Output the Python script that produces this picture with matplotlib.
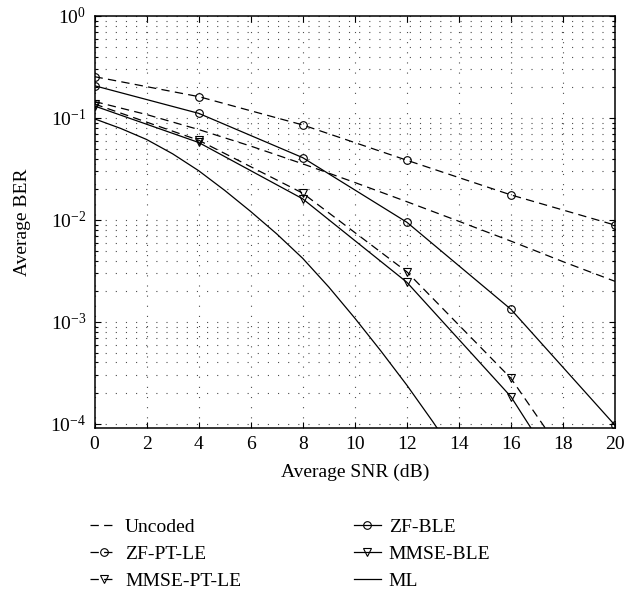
import numpy as np
import matplotlib
matplotlib.use("Agg")
import matplotlib.pyplot as plt
from matplotlib.ticker import LogLocator, NullFormatter

# Simulation points (dB) for the detector curves
snr_pts = [0, 4, 8, 12, 16, 20]
ber_zf_pt_le = [0.254, 0.162, 0.0854, 0.0385, 0.0176, 0.0089]
ber_zf_ble = [0.207, 0.111, 0.0408, 0.0095, 0.00133, 0.000097]
ber_mmse_pt_le = [0.137, 0.0605, 0.0183, 0.0031, 0.00028, 0.0000093]
ber_mmse_ble = [0.131, 0.0575, 0.0161, 0.00245, 0.000185, 0.0000047]

# Uncoded reference curve
snr_uncoded = [0, 2, 4, 6, 8, 10, 12, 14, 16, 18, 20]
ber_uncoded = [0.145, 0.108, 0.077, 0.053, 0.0355, 0.0233, 0.0151, 0.0097,
               0.0062, 0.0039, 0.0025]

# Maximum-likelihood detection
snr_ml = [0, 1, 2, 3, 4, 5, 6, 7, 8, 9, 10, 11, 12, 13, 14]
ber_ml = [0.098, 0.079, 0.0615, 0.0445, 0.0304, 0.0195, 0.0121, 0.0073,
          0.0042, 0.0022, 0.00109, 0.00052, 0.00024, 0.000105, 0.000044]

xticks = list(range(0, 21, 2))

plt.rcParams.update({
    "font.family": ["Liberation Serif", "DejaVu Serif"],
    "mathtext.fontset": "custom",
    "mathtext.rm": "Liberation Serif",
    "mathtext.it": "Liberation Serif:italic",
    "lines.scale_dashes": False,
    "lines.dashed_pattern": [6.0, 3.8],
})

fig = plt.figure(figsize=(6.39, 5.9), dpi=100)
ax = fig.add_axes([0.148, 0.2753, 0.8144, 0.6976])

lw = 0.9
ms = 5.5
mkw = dict(ms=ms, mfc="none", mec="k", mew=0.8)

ax.plot(snr_uncoded, ber_uncoded, color="k", lw=lw, ls="--", label="Uncoded")
ax.plot(snr_pts, ber_zf_pt_le, color="k", lw=lw, ls="--", marker="o",
        label="ZF-PT-LE", **mkw)
ax.plot(snr_pts, ber_mmse_pt_le, color="k", lw=lw, ls="--", marker="v",
        label="MMSE-PT-LE", **mkw)
ax.plot(snr_pts, ber_zf_ble, color="k", lw=lw, ls="-", marker="o",
        label="ZF-BLE", **mkw)
ax.plot(snr_pts, ber_mmse_ble, color="k", lw=lw, ls="-", marker="v",
        label="MMSE-BLE", **mkw)
ax.plot(snr_ml, ber_ml, color="k", lw=lw, ls="-", label="ML")

ax.set_yscale("log")
ax.set_xlim(0, 20)
ax.set_ylim(9.2e-5, 1)
ax.set_xticks(xticks)
ax.yaxis.set_major_locator(LogLocator(base=10, numticks=10))
ax.yaxis.set_minor_locator(LogLocator(base=10, subs=np.arange(2, 10), numticks=100))
ax.yaxis.set_minor_formatter(NullFormatter())

ax.tick_params(which="both", direction="in", top=True, right=True, width=0.8)
ax.tick_params(which="major", length=4, labelsize=14, pad=6)
ax.tick_params(which="minor", length=2.5)
for s in ax.spines.values():
    s.set_linewidth(1.1)

grid_style = dict(ls=(0, (0.8, 6.5)), color="0.3", lw=0.8)
ax.grid(True, which="major", **grid_style)
ax.grid(True, which="minor", axis="y", **grid_style)

ax.set_xlabel("Average SNR (dB)", fontsize=14, labelpad=8)
ax.set_ylabel("Average BER", fontsize=14, labelpad=14)

fig.legend(loc="upper left", bbox_to_anchor=(0.1408, 0.122), ncol=2,
           frameon=False, fontsize=14, handlelength=1.4, handletextpad=0.4,
           labelspacing=0.5, columnspacing=5.8, borderaxespad=0, borderpad=0)

fig.savefig("out.png", dpi=100)
